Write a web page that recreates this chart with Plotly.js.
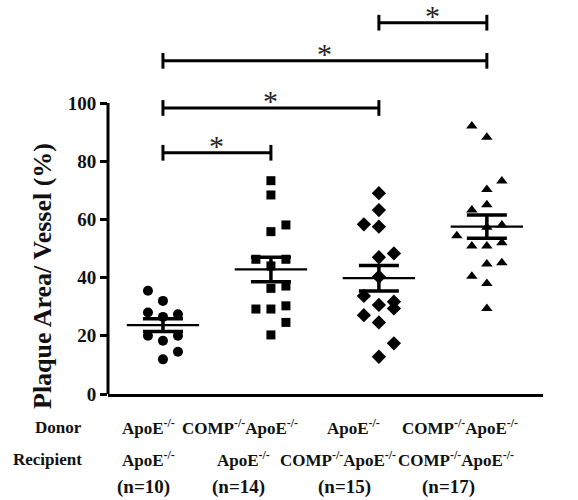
<!DOCTYPE html>
<html>
<head>
<meta charset="utf-8">
<script src="https://cdn.plot.ly/plotly-3.0.1.min.js"></script>
<style>html,body{margin:0;padding:0;background:#fff;}#chart{width:578px;height:500px;}</style>
</head>
<body>
<div id="chart"></div>
<script>
// ---- data ----
const groups = ["ApoE/ApoE", "COMP ApoE/ApoE", "ApoE/COMP ApoE", "COMP ApoE/COMP ApoE"];
const donorLabels = ["ApoE<sup>-/-</sup>", "COMP<sup>-/-</sup>ApoE<sup>-/-</sup>", "ApoE<sup>-/-</sup>", "COMP<sup>-/-</sup>ApoE<sup>-/-</sup>"];
const recipientLabels = ["ApoE<sup>-/-</sup>", "ApoE<sup>-/-</sup>", "COMP<sup>-/-</sup>ApoE<sup>-/-</sup>", "COMP<sup>-/-</sup>ApoE<sup>-/-</sup>"];
const nLabels = ["(n=10)", "(n=14)", "(n=15)", "(n=17)"];

const values1 = [35.5, 32.0, 28.0, 26.5, 27.4, 20.0, 18.3, 20.0, 14.5, 11.9];
const values2 = [73.3, 68.4, 58.1, 55.8, 46.3, 46.3, 44.0, 36.3, 37.1, 29.2, 29.2, 30.3, 24.6, 20.3];
const values3 = [69.0, 63.2, 58.3, 57.5, 47.0, 48.3, 40.3, 33.7, 30.6, 31.7, 29.4, 27.1, 24.6, 17.4, 12.8];
const values4 = [92.1, 88.2, 73.2, 70.3, 65.0, 63.2, 58.1, 57.3, 54.4, 50.9, 50.9, 52.0, 44.7, 45.1, 40.5, 38.0, 29.4];
// column (scatter lane) of each point within its group
const lanes1 = [-1, 0, -1, 0, 1, -1, 0, 1, 1, 0];
const lanes2 = [0, 0, 1, 0, -1, 1, 0, 0, 1, -1, 0, 1, 1, 0];
const lanes3 = [0, 0, -1, 0, 0, 1, 0, -1, 0, 1, 1, -1, 0, 1, 0];
const lanes4 = [-1, 0, 1, 0, 0, -1, 1, 0, -2, -1, 0, 1, 0, 1, -1, 0, 0];

const means = [23.7, 42.8, 39.8, 57.5];
const sems = [2.2, 4.2, 4.4, 4.0];

// significance comparisons: [group a, group b, bracket level]
const compA = [2, 0, 0, 0];
const compB = [3, 3, 2, 1];
const compLevel = [127.6, 114.5, 98.3, 82.9];
const compLabel = ["*", "*", "*", "*"];

const yTicks = [0, 20, 40, 60, 80, 100];

// ---- drawing ----
const serif = "Liberation Serif";
const laneStep = 0.139;
const symbols = ["circle", "square", "diamond", "triangle-up"];
const msizes = [10, 9, 11, 10];
const allVals = [values1, values2, values3, values4];
const allLanes = [lanes1, lanes2, lanes3, lanes4];

const traces = [];
allVals.forEach((vals, g) => {
  traces.push({
    type: "scatter", mode: "markers",
    x: vals.map((v, i) => g + allLanes[g][i] * laneStep),
    y: vals,
    marker: {symbol: symbols[g], size: msizes[g], color: "#000", line: {width: 0}},
    hoverinfo: "y", showlegend: false
  });
});
means.forEach((m, g) => {
  traces.push({
    type: "scatter", mode: "lines",
    x: [g - 0.335, g + 0.335], y: [m, m],
    line: {color: "#000", width: 2.2}, showlegend: false, hoverinfo: "skip"
  });
});
traces.push({
  type: "scatter", mode: "markers",
  x: groups.map((_, g) => g), y: means,
  marker: {size: 1, color: "rgba(0,0,0,0)"},
  error_y: {type: "data", array: sems, visible: true, color: "#000", thickness: 3.5, width: 20},
  showlegend: false, hoverinfo: "skip"
});

const W = 435, H = 394, L = 108;
const px = x => (x - L) / W;
const py = y => (H - y) / H;

const shapes = [
  {type: "line", xref: "paper", yref: "y", x0: 0, x1: 0, y0: 0, y1: 100, line: {color: "#000", width: 3}}
];
const annotations = [];
const tick = 2.7;
compA.forEach((a, i) => {
  const b = compB[i], lv = compLevel[i];
  shapes.push({type: "line", xref: "x", yref: "y", x0: a, x1: b, y0: lv, y1: lv, line: {color: "#000", width: 3}});
  shapes.push({type: "line", xref: "x", yref: "y", x0: a, x1: a, y0: lv - tick, y1: lv + tick, line: {color: "#000", width: 3}});
  shapes.push({type: "line", xref: "x", yref: "y", x0: b, x1: b, y0: lv - tick, y1: lv + tick, line: {color: "#000", width: 3}});
  annotations.push({xref: "x", yref: "y", x: (a + b) / 2, y: lv, text: compLabel[i], showarrow: false,
    xanchor: "center", yanchor: "bottom", yshift: -11, font: {family: serif, size: 30, color: "#222"}});
});

// y-axis title
annotations.push({xref: "paper", yref: "paper", x: px(42), y: py(276), text: "<b>Plaque Area/ Vessel (%)</b>",
  textangle: -90, showarrow: false, xanchor: "center", yanchor: "middle", font: {family: serif, size: 26, color: "#111"}});

// row labels
annotations.push({xref: "paper", yref: "paper", x: px(84), y: py(427), text: "<b>Donor</b>", showarrow: false,
  xanchor: "right", yanchor: "middle", font: {family: serif, size: 17, color: "#111"}});
annotations.push({xref: "paper", yref: "paper", x: px(84), y: py(459), text: "<b>Recipient</b>", showarrow: false,
  xanchor: "right", yanchor: "middle", font: {family: serif, size: 17, color: "#111"}});

const donorX = [148, 240, 353, 460];
const recipX = [148, 243, 338, 456];
const nX = [143, 238, 344, 448];
donorLabels.forEach((t, g) => {
  annotations.push({xref: "paper", yref: "paper", x: px(donorX[g]), y: py(427), text: "<b>" + t + "</b>", showarrow: false,
    xanchor: "center", yanchor: "middle", font: {family: serif, size: 17, color: "#111"}});
  annotations.push({xref: "paper", yref: "paper", x: px(recipX[g]), y: py(459), text: "<b>" + recipientLabels[g] + "</b>", showarrow: false,
    xanchor: "center", yanchor: "middle", font: {family: serif, size: 17, color: "#111"}});
  annotations.push({xref: "paper", yref: "paper", x: px(nX[g]), y: py(487), text: "<b>" + nLabels[g] + "</b>", showarrow: false,
    xanchor: "center", yanchor: "middle", font: {family: serif, size: 19, color: "#111"}});
});

const layout = {
  width: 578, height: 500,
  margin: {l: L, r: 578 - L - W, t: 0, b: 500 - H},
  paper_bgcolor: "#fff", plot_bgcolor: "#fff",
  showlegend: false,
  font: {family: serif, color: "#111"},
  xaxis: {range: [-0.509, 3.52], showline: true, linecolor: "#000", linewidth: 3, showticklabels: false,
    ticks: "", showgrid: false, zeroline: false, fixedrange: true},
  yaxis: {range: [0, 135.4], tickvals: yTicks, ticktext: yTicks.map(v => "<b>" + v + "</b>"), ticks: "outside", ticklen: 7, tickwidth: 3,
    tickcolor: "#000", showline: false, showgrid: false, zeroline: false,
    tickfont: {family: serif, size: 19, color: "#111"}, fixedrange: true},
  shapes: shapes,
  annotations: annotations
};

Plotly.newPlot("chart", traces, layout, {displayModeBar: false, staticPlot: true});
</script>
</body>
</html>
